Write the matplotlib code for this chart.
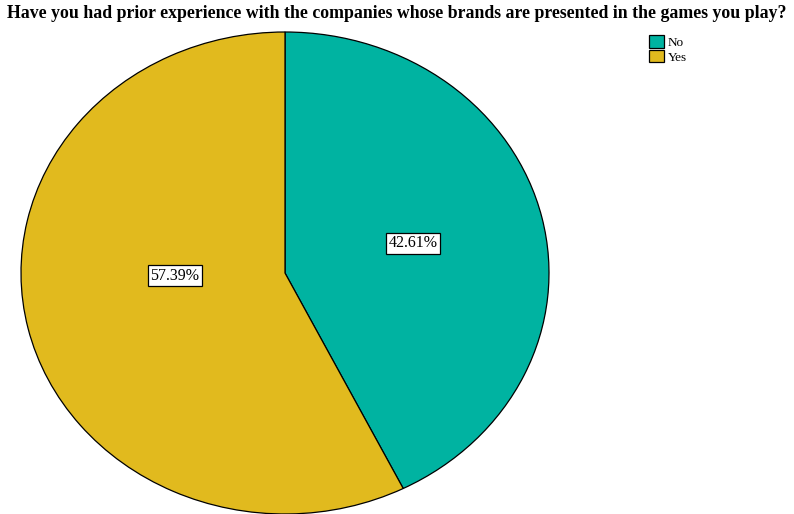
import matplotlib
matplotlib.use("Agg")
import matplotlib.pyplot as plt

plt.rcParams['font.family'] = ['Liberation Serif', 'DejaVu Serif']

# Data
labels = ['No', 'Yes']
values = [42.61, 57.39]
colors = ['#00B3A1', '#E1BA1E']

fig = plt.figure(figsize=(7.94, 5.14), dpi=100)
fig.patch.set_facecolor('white')

# pie axes, stretched to an ellipse like the original
ax = fig.add_axes([21 / 794, 0.0, 528 / 794, 482 / 514])
wedges, _ = ax.pie(values, colors=colors, startangle=90, counterclock=False,
                   wedgeprops=dict(edgecolor='black', linewidth=0.9))
ax.set_aspect('auto')
ax.set_xlim(-1, 1)
ax.set_ylim(-1, 1)

# percentage labels
label_pos = [(0.5 + 0.485 / 2, 0.5 + 0.124 / 2), (0.5 - 0.417 / 2, 0.5 - 0.012 / 2)]
for (x, y), v in zip(label_pos, values):
    ax.text(x, y, f"{v:.2f}%", transform=ax.transAxes, ha='center', va='center',
            fontsize=11.5,
            bbox=dict(boxstyle='square,pad=0.15', facecolor='white', edgecolor='black', linewidth=0.9))

fig.text(0.5, 0.99, "Have you had prior experience with the companies whose brands are presented in the games you play?",
         ha='center', va='top', fontsize=12.8, fontweight='bold')

fig.legend(wedges, labels, loc='upper left', bbox_to_anchor=(640 / 794, 1 - 26 / 514),
           frameon=False, fontsize=9.5, handlelength=1.1, handleheight=1.1,
           handletextpad=0.3, labelspacing=0.05, borderpad=0.2)

fig.savefig("out.png", dpi=100)
